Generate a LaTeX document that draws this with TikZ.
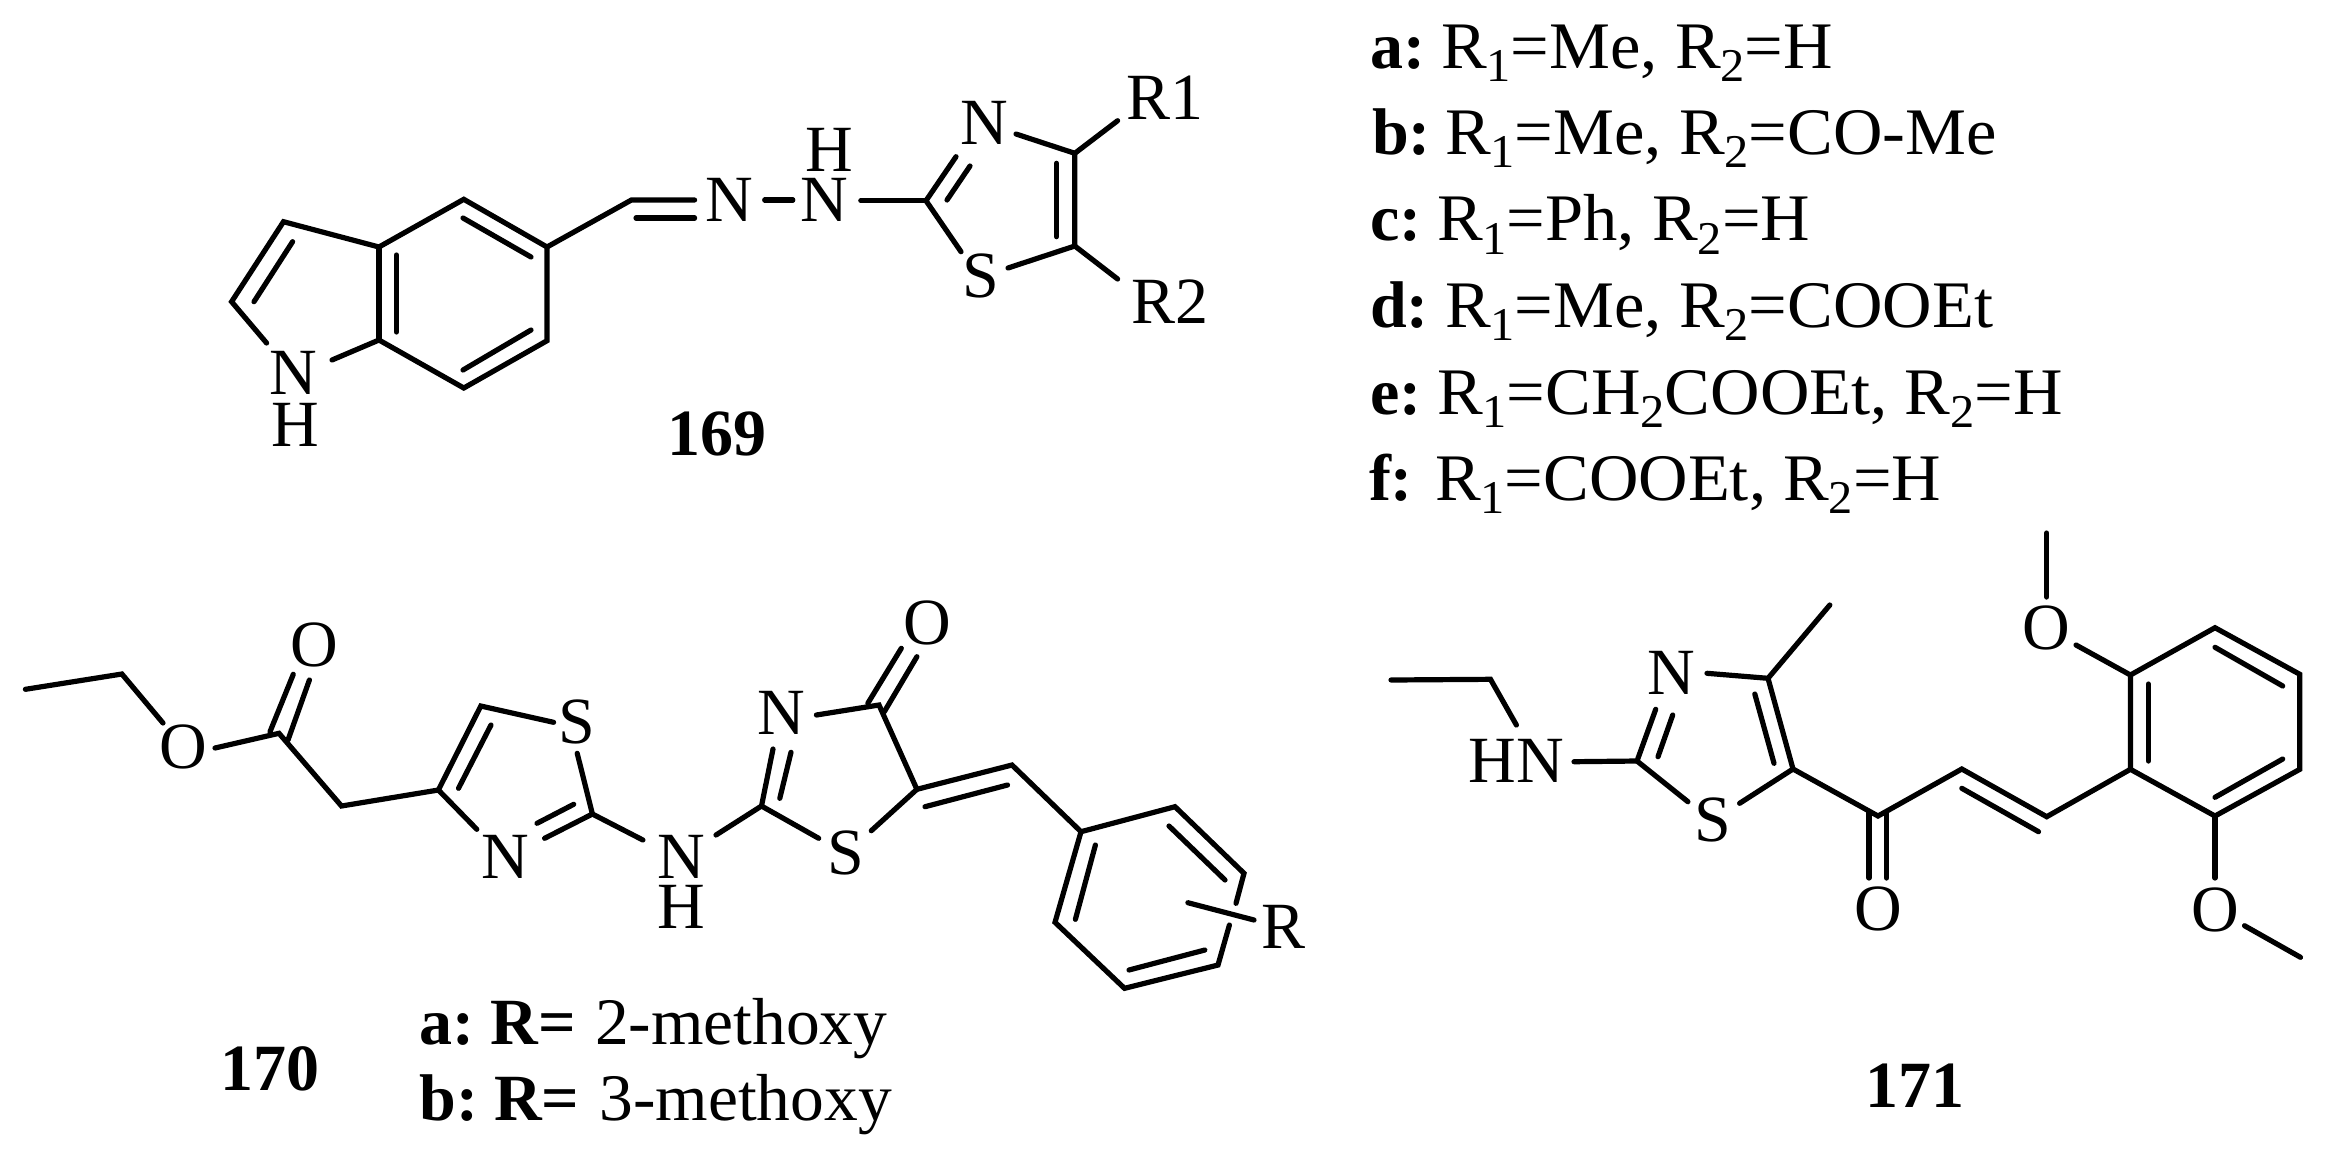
\documentclass[tikz,border=0pt]{standalone}
\usepackage{fontspec}
\setmainfont{Liberation Serif}
\newfontfamily\widefont[FakeStretch=1.03]{Liberation Serif}
\newfontfamily\midfont[FakeStretch=1.015]{Liberation Serif}
\newcommand{\sbs}[1]{\raisebox{-13.5pt}{\fontsize{47}{47}\selectfont #1}}
\newcommand{\Ra}{R\sbs{1}}
\newcommand{\Rb}{R\sbs{2}}
\tikzset{
  bond/.style={line width=5.2pt,line cap=round,line join=miter,black},
  atom/.style={inner sep=0pt,outer sep=0pt,font=\fontsize{66}{66}\selectfont,text=black},
  txt/.style={inner sep=0pt,outer sep=0pt,anchor=base west,font=\fontsize{66.5}{66.5}\widefont,text=black},
  txm/.style={inner sep=0pt,outer sep=0pt,anchor=base west,font=\fontsize{66.5}{66.5}\midfont,text=black},
  tag/.style={inner sep=0pt,outer sep=0pt,anchor=base west,font=\fontsize{66}{66}\selectfont\bfseries,text=black},
  cpd/.style={inner sep=0pt,outer sep=0pt,anchor=base,font=\fontsize{66}{66}\selectfont\bfseries,text=black}
}
\begin{document}
\begin{tikzpicture}[x=1pt,y=-1pt]
\useasboundingbox (0,0) rectangle (2339,1163);
% ---------- named points: compound 169
\foreach \n/\x/\y in {
 ic3/283.5/221.7, ic2/231.6/301.7, icn/266.6/343, ic7a/379/340, inc/332/360, ic3a/379/247,
 ic4/463.8/199.3, ic5/547/247, ic6/547/340.7, ic7/463.8/388,
 ia1/396.4/255, ia2/396.4/332, ib1/463/218, ib2/531/257, ic1/531/330, ic2b/463/370,
 id1/292.6/241.7, id2/254/301.7,
 hc/631.4/200, hn1/694.6/200, hc2/636/218, hn2/694.6/218,
 nn1/764.7/200, nn2/792.8/200, nt1/860.8/200.7,
 tc2/926/200.7, tn/956/156.7, ti1/947/200, ti2/970/166, tnc/1016/134, tc4/1074.8/153.3,
 tc5/1074.8/246, tj1/1056.5/163.3, tj2/1056.5/236.7, ts1/1008/268, ts2/961/251.7,
 tr1/1117.6/120.7, tr2/1117.6/279}
  \coordinate (\n) at (\x,\y);
% ---------- named points: compound 170
\foreach \n/\x/\y in {
 a1/25.4/689.3, a2/121.9/674, a3/163/723, a4/215/748, a5/279/733.3,
 o1/270/731.7, o2/293.3/674.3, o3/288/740, o4/309.4/680,
 a6/341.5/806, a7/438.4/790, a8/480.8/706, a9/491/725, a10/458.5/788.3,
 a11/553.6/722.3, a12/577.2/753.3, a13/592.4/814, a14/544.6/838.3,
 a15/573.7/804.3, a16/537/823.3, a17/476.8/829.3, a18/642.9/840,
 b1/716/835, b2/761.5/806, b3/773/749, b4/779.8/798.3, b5/791/752.3,
 b6/816.4/715, b7/879/705, p1/867.8/703.3, p2/901.3/648.3, p3/884.3/711.7, p4/916.9/656.7,
 b8/916.9/789.3, b9/871.3/830.7, b10/818.7/838.3, b11/1012/765, b12/925/806.7, b13/1007.5/785,
 r1/1081/831.7, r2/1175/806.7, r3/1244/873.3, r4/1169/826, r5/1225/880,
 r6/1236/903.3, r7/1229.4/925, r8/1218/965, r9/1124.5/988.3, r10/1204.8/950, r11/1129/970,
 r12/1055/922.3, r13/1075.4/919.3, r14/1095.4/845, s1/1187.9/902.7, s2/1254/920}
  \coordinate (\n) at (\x,\y);
% ---------- named points: compound 171
\foreach \n/\x/\y in {
 e1/1391/680, e2/1490.5/679.3, e3/1516.4/725, e4/1574/761.7, e5/1637/761,
 e6/1655.7/709.3, e7/1658/756.7, e8/1672.7/715, e9/1707/673.3, e10/1768/678.3,
 e11/1829.8/605, e12/1793/769, e13/1754.8/694, e14/1774/763.3, e15/1739.6/803.3,
 e16/1687.9/801.7, e17/1878/816, e18/1869/812, e19/1869/878, e20/1886.6/812, e21/1886.6/878,
 f1/1961.8/769, f2/2046.7/816.7, f3/1961.8/788.3, f4/2038.5/831.7,
 g1/2130.4/769.3, g2/2130.4/675, g3/2215/627.7, g4/2299.8/674.3, g5/2299.8/769.3, g6/2215/816,
 g7/2148.3/684, g8/2148.3/761, g9/2215/647.3, g10/2282.7/686, g11/2282.7/759, g12/2215/797.3,
 h1/2076/645, h2/2046.7/533, h3/2046.7/597, h4/2215/878, h5/2244.5/925.7, h6/2300.5/957.3}
  \coordinate (\n) at (\x,\y);
% ---------- bonds 169
\draw[bond] (icn) -- (ic2) -- (ic3) -- (ic3a) -- (ic4) -- (ic5) -- (ic6) -- (ic7) -- (ic7a) -- (inc);
\draw[bond] (ic3a) -- (ic7a);
\draw[bond] (ia1) -- (ia2);
\draw[bond] (ib1) -- (ib2);
\draw[bond] (ic1) -- (ic2b);
\draw[bond] (id1) -- (id2);
\draw[bond] (ic5) -- (hc) -- (hn1);
\draw[bond] (hc2) -- (hn2);
\draw[bond] (nn1) -- (nn2);
\draw[bond] (nt1) -- (tc2);
\draw[bond] (tn) -- (tc2) -- (ts2);
\draw[bond] (ti1) -- (ti2);
\draw[bond] (tnc) -- (tc4) -- (tc5) -- (ts1);
\draw[bond] (tj1) -- (tj2);
\draw[bond] (tc4) -- (tr1);
\draw[bond] (tc5) -- (tr2);
% ---------- bonds 170
\draw[bond] (a1) -- (a2) -- (a3);
\draw[bond] (a4) -- (a5) -- (a6) -- (a7) -- (a8) -- (a11);
\draw[bond] (o1) -- (o2);
\draw[bond] (o3) -- (o4);
\draw[bond] (a9) -- (a10);
\draw[bond] (a7) -- (a17);
\draw[bond] (a12) -- (a13) -- (a14);
\draw[bond] (a15) -- (a16);
\draw[bond] (a13) -- (a18);
\draw[bond] (b1) -- (b2) -- (b3);
\draw[bond] (b2) -- (b10);
\draw[bond] (b4) -- (b5);
\draw[bond] (b6) -- (b7) -- (b8) -- (b9);
\draw[bond] (p1) -- (p2);
\draw[bond] (p3) -- (p4);
\draw[bond] (b8) -- (b11) -- (r1) -- (r2) -- (r3) -- (r6);
\draw[bond] (b12) -- (b13);
\draw[bond] (r4) -- (r5);
\draw[bond] (r7) -- (r8) -- (r9) -- (r12) -- (r1);
\draw[bond] (r10) -- (r11);
\draw[bond] (r13) -- (r14);
\draw[bond] (s1) -- (s2);
% ---------- bonds 171
\draw[bond] (e1) -- (e2) -- (e3);
\draw[bond] (e4) -- (e5) -- (e6);
\draw[bond] (e7) -- (e8);
\draw[bond] (e5) -- (e16);
\draw[bond] (e9) -- (e10) -- (e12) -- (e15);
\draw[bond] (e10) -- (e11);
\draw[bond] (e13) -- (e14);
\draw[bond] (e12) -- (e17) -- (f1) -- (f2) -- (g1) -- (g2) -- (g3) -- (g4) -- (g5) -- (g6) -- (g1);
\draw[bond] (e18) -- (e19);
\draw[bond] (e20) -- (e21);
\draw[bond] (f3) -- (f4);
\draw[bond] (g7) -- (g8);
\draw[bond] (g9) -- (g10);
\draw[bond] (g11) -- (g12);
\draw[bond] (g2) -- (h1);
\draw[bond] (h2) -- (h3);
\draw[bond] (g6) -- (h4);
\draw[bond] (h5) -- (h6);
% ---------- atom labels 169
\node[atom] (lN1) at (293,373) {N};
\node[atom] (lH1) at (295,425) {H};
\node[atom] (lN2) at (729.6,200) {N};
\node[atom] (lN3) at (824,200) {N};
\node[atom] (lH3) at (829,150) {H};
\node[atom] (lN4) at (984,123) {N};
\node[atom] (lS4) at (981,276) {S};
\node[atom] (lR1) at (1165,98) {R1};
\node[atom] (lR2) at (1170,301.7) {R2};
\node[cpd] (c169) at (717,455) {169};
% ---------- atom labels 170
\node[atom] (lO5) at (183,747) {O};
\node[atom] (lO6) at (314.7,645) {O};
\node[atom] (lS7) at (577,721.7) {S};
\node[atom] (lN7) at (505.8,856.7) {N};
\node[atom] (lN8) at (681,856.7) {N};
\node[atom] (lH8) at (681,906.7) {H};
\node[atom] (lN9) at (781.6,713.3) {N};
\node[atom] (lO9) at (927,623.3) {O};
\node[atom] (lS9) at (845.4,853.3) {S};
\node[atom] (lR) at (1283,927) {R};
\node[cpd] (c170) at (270,1090) {170};
\node[tag] (ta) at (419.5,1044) {a:};
\node[tag] (tR1) at (490.6,1044) {R=};
\node[txm] (tm1) at (595,1044) {2-methoxy};
\node[tag] (tb) at (419.5,1120) {b:};
\node[tag] (tR2) at (494,1120) {R=};
\node[txm] (tm2) at (599.5,1120) {3-methoxy};
% ---------- atom labels 171
\node[atom] (lHN) at (1516.5,761) {HN};
\node[atom] (lNb) at (1671,673.3) {N};
\node[atom] (lSb) at (1712.4,820) {S};
\node[atom] (lOb) at (1878,909) {O};
\node[atom] (lOc) at (2046.7,628) {O};
\node[atom] (lOd) at (2215,910) {O};
\node[cpd] (c171) at (1915,1107) {171};
% ---------- substituent table
\node[tag] (la) at (1370,68.3) {a:};
\node[txt] (va) at (1441,68.3) {\Ra=Me, \Rb=H};
\node[tag] (lb) at (1372,154.3) {b:};
\node[txt] (vb) at (1445,154.3) {\Ra=Me, \Rb=CO-Me};
\node[tag] (lc) at (1370,240.7) {c:};
\node[txt] (vc) at (1437,240.7) {\Ra=Ph, \Rb=H};
\node[tag] (ld) at (1370,327.3) {d:};
\node[txt] (vd) at (1445,327.3) {\Ra=Me, \Rb=COOEt};
\node[tag] (le) at (1370,414) {e:};
\node[txt] (ve) at (1437,414) {\Ra=CH\sbs{2}COOEt, \Rb=H};
\node[tag] (lf) at (1369,500) {f:};
\node[txt] (vf) at (1435,500) {\Ra=COOEt, \Rb=H};
\end{tikzpicture}
\end{document}
